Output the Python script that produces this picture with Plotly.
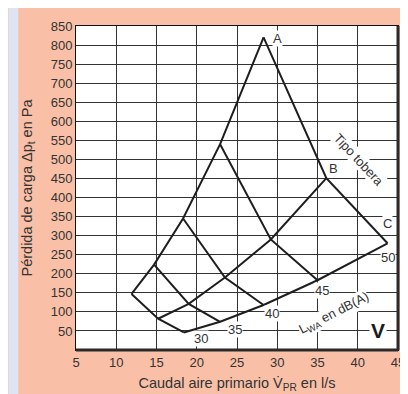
import plotly.graph_objects as go

# Caudal (l/s) y pérdida de carga (Pa) en cada nudo, por tipo de tobera
# y por nivel sonoro (30, 35, 40, 45, 50 dB(A))
niveles = ["30", "35", "40", "45", "50"]
tipos = ["A", "B", "C"]

caudal_a = [11.9, 14.7, 18.3, 22.9, 28.3]
presion_a = [147, 224, 345, 540, 820]

caudal_b = [15.2, 19.0, 23.5, 29.2, 36.1]
presion_b = [82, 121, 190, 290, 451]

caudal_c = [18.4, 22.9, 28.3, 35.0, 43.7]
presion_c = [46, 74, 118, 183, 280]

x_ticks = [5, 10, 15, 20, 25, 30, 35, 40, 45]
y_ticks = [50, 100, 150, 200, 250, 300, 350, 400, 450, 500, 550, 600, 650,
           700, 750, 800, 850]

FONDO = "#f9c0a7"
TEXTO = "#333333"
LINEA = "#1e1e1e"
FUENTE = "Liberation Sans, Arial, sans-serif"

curvas = [(caudal_a, presion_a), (caudal_b, presion_b), (caudal_c, presion_c)]

fig = go.Figure()

# curvas de cada tobera
for cx, cy in curvas:
    fig.add_trace(go.Scatter(x=cx, y=cy, mode="lines",
                             line=dict(color=LINEA, width=2),
                             hoverinfo="skip", showlegend=False))

# lineas de igual nivel sonoro
for i in range(len(niveles)):
    fig.add_trace(go.Scatter(
        x=[c[0][i] for c in curvas],
        y=[c[1][i] for c in curvas],
        mode="lines", line=dict(color=LINEA, width=2),
        hoverinfo="skip", showlegend=False))

etiqueta = dict(showarrow=False, bgcolor="white", borderpad=0,
                font=dict(family=FUENTE, size=13, color=TEXTO))

# niveles sonoros
pos_niveles = [(20.5, 31), (24.8, 53), (29.4, 95), (35.6, 155), (43.8, 243)]
for txt, (px, py) in zip(niveles, pos_niveles):
    fig.add_annotation(x=px, y=py, text=txt, **etiqueta)

# tipos de tobera
pos_tipos = [(30.0, 818), (37.0, 477), (43.7, 333)]
for txt, (px, py) in zip(tipos, pos_tipos):
    fig.add_annotation(x=px, y=py, text=txt, **etiqueta)

fig.add_annotation(x=40.1, y=500, text="Tipo tobera", textangle=47, **etiqueta)
fig.add_annotation(x=37.1, y=95, text="L<sub>WA</sub> en dB(A)",
                   textangle=-27, **etiqueta)
fig.add_annotation(x=42.5, y=52, text="<b>V</b>", showarrow=False,
                   bgcolor="white", borderpad=1,
                   font=dict(family=FUENTE, size=21, color="#1a1a1a"))

# franja lateral y marco con sombra
fig.add_shape(type="rect", xref="paper", yref="paper", x0=-0.21, x1=-0.1793,
              y0=-0.2, y1=1.1, fillcolor="#e0e3f2", line_width=0, layer="below")
fig.add_shape(type="line", xref="paper", yref="paper", x0=1, x1=1, y0=0, y1=1,
              line=dict(color="#2a2a2a", width=3))
fig.add_shape(type="line", xref="paper", yref="paper", x0=0, x1=1, y0=0, y1=0,
              line=dict(color="#2a2a2a", width=3))

fig.update_layout(
    width=408, height=394,
    margin=dict(l=68, r=11, t=12, b=52),
    paper_bgcolor=FONDO, plot_bgcolor="white",
    font=dict(family=FUENTE, color=TEXTO),
    xaxis=dict(range=[5, 45], tickvals=x_ticks, showgrid=True,
               gridcolor="#333333", gridwidth=1, zeroline=False,
               showline=True, linecolor="#111111", linewidth=1, mirror=True,
               ticks="", tickfont=dict(size=13, color=TEXTO),
               title=dict(text="Caudal aire primario V̇<sub>PR</sub> en l/s",
                          font=dict(size=14.5, color=TEXTO), standoff=9)),
    yaxis=dict(range=[0, 850], tickvals=y_ticks, showgrid=True,
               gridcolor="#333333", gridwidth=1, zeroline=False,
               showline=True, linecolor="#111111", linewidth=1, mirror=True,
               ticks="", tickfont=dict(size=13, color=TEXTO),
               title=dict(text="Pérdida de carga Δp<sub>t</sub> en Pa",
                          font=dict(size=14.5, color=TEXTO), standoff=14)),
)

fig.write_html("out.html")
